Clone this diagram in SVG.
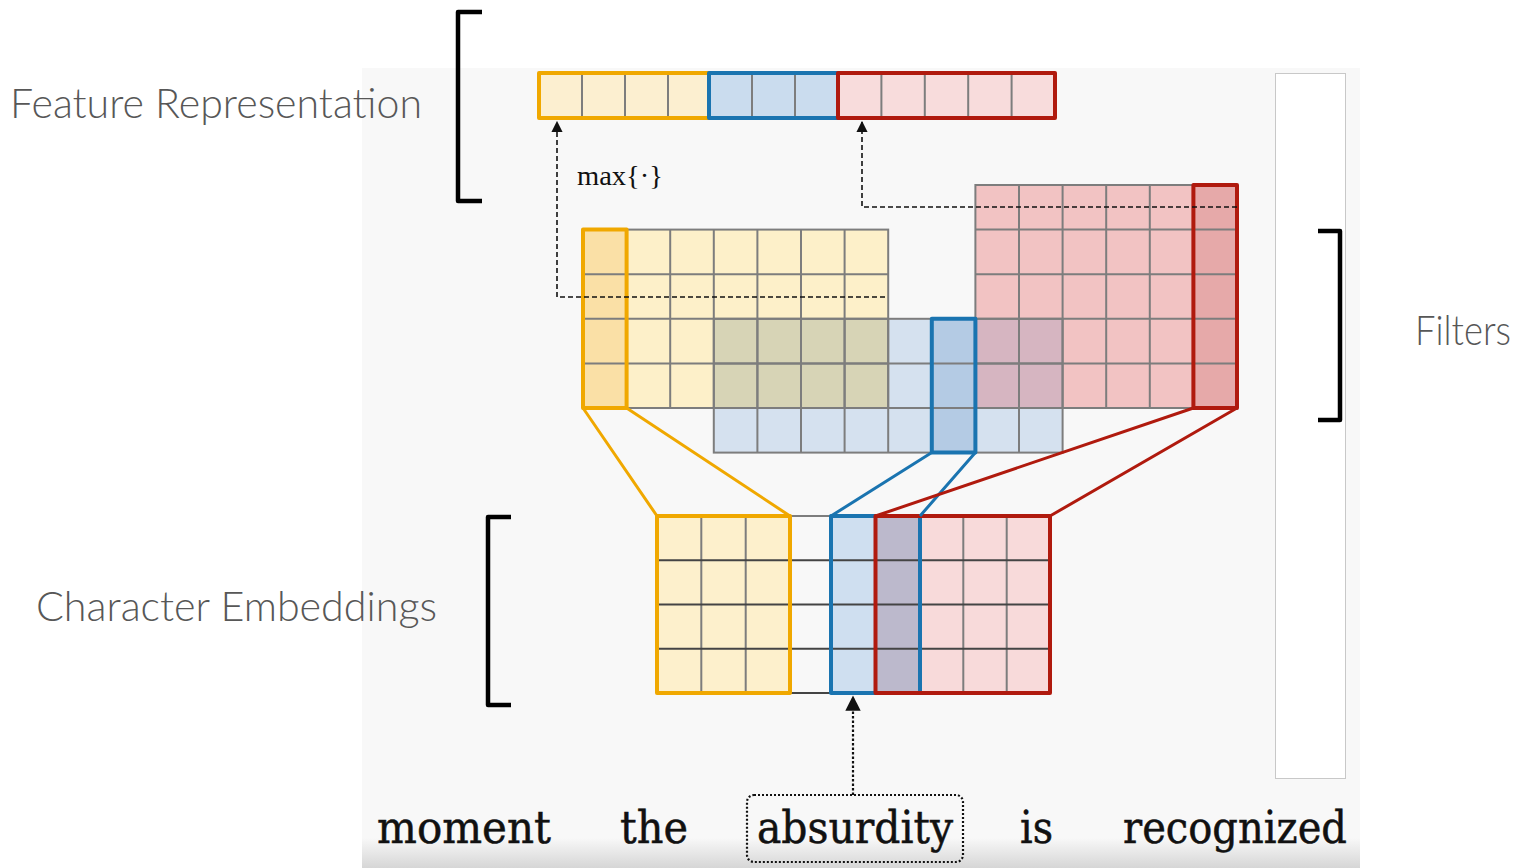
<svg xmlns="http://www.w3.org/2000/svg" width="1521" height="868" viewBox="0 0 1521 868">
<defs>
<style>
.lbl{font-family:Lato,"Open Sans","Liberation Sans",sans-serif;font-weight:300;fill:#575757;font-size:41px}
.word{font-family:"DejaVu Serif","Liberation Serif",serif;font-size:44px;fill:#111;stroke:#111;stroke-width:0.5}
.grid{fill:none;stroke:#7d7d7d;stroke-width:2}
.dark{fill:none;stroke:#444;stroke-width:2}
.brk{fill:none;stroke:#000;stroke-width:4.5;stroke-linejoin:round}
.ys{fill:none;stroke:#f0a800;stroke-width:4;stroke-linejoin:round}
.bs{fill:none;stroke:#1a74b0;stroke-width:4;stroke-linejoin:round}
.rs{fill:none;stroke:#b01a0e;stroke-width:4;stroke-linejoin:round}
.link{stroke-width:3;fill:none}
.dash{fill:none;stroke:#111;stroke-width:1.6;stroke-dasharray:5 3}
.dot{fill:none;stroke:#111;stroke-width:2.2;stroke-dasharray:2.5 2}
</style>
<marker id="ah" viewBox="0 0 10 10" refX="9" refY="5" markerWidth="7" markerHeight="7" orient="auto"><path d="M0,0 L10,5 L0,10 z" fill="#111"/></marker>
<linearGradient id="fade" x1="0" y1="0" x2="0" y2="1"><stop offset="0" stop-color="#f8f8f8"/><stop offset="1" stop-color="#d6d6d6"/></linearGradient>
</defs>

<rect x="0" y="0" width="1521" height="868" fill="#fff"/>
<g id="background">
<rect x="362" y="68" width="998" height="800" fill="#f8f8f8"/>
<rect x="362" y="838" width="998" height="30" fill="url(#fade)"/>
<rect x="1275.5" y="73.5" width="70" height="705" fill="#fff" stroke="#c8c8c8" stroke-width="1"/>
</g>

<g id="labels">
<text class="lbl" x="10" y="118" textLength="412" lengthAdjust="spacingAndGlyphs">Feature Representation</text>
<text class="lbl" x="36" y="621" textLength="401" lengthAdjust="spacingAndGlyphs">Character Embeddings</text>
<text class="lbl" x="1415" y="345" textLength="96" lengthAdjust="spacingAndGlyphs">Filters</text>
</g>

<g id="brackets">
<path class="brk" d="M482,12 H458 V201 H482"/>
<path class="brk" d="M511,517 H488 V705 H511"/>
<path class="brk" d="M1318,231 H1340 V420 H1318"/>
</g>

<g id="feature-bar">
<rect x="539" y="73" width="170" height="45" fill="#fcefd0"/>
<rect x="709" y="73" width="129" height="45" fill="#cadcee"/>
<rect x="838" y="73" width="217" height="45" fill="#f8dcdc"/>
<path class="grid" d="M582,73 V118 M625,73 V118 M668,73 V118 M752,73 V118 M795,73 V118 M881.4,73 V118 M924.8,73 V118 M968.2,73 V118 M1011.6,73 V118"/>
<rect class="ys" x="539" y="73" width="170" height="45"/>
<rect class="bs" x="709" y="73" width="129" height="45"/>
<rect class="rs" x="838" y="73" width="217" height="45"/>
</g>

<g id="max-label">
<text x="577" y="185" font-family="'Liberation Serif',serif" font-size="27" fill="#111" textLength="86" lengthAdjust="spacingAndGlyphs">max{·}</text>
</g>

<g id="filters">
<g id="filter-yellow">
<rect x="583" y="229.6" width="305.2" height="178.4" fill="#fdf0c9"/>
</g>
<g id="filter-blue">
<rect x="713.8" y="318.8" width="348.8" height="133.8" fill="#d5e1ef"/>
</g>
<g id="filter-red">
<rect x="975.4" y="185" width="261.6" height="223" fill="#f2c3c3"/>
</g>
<rect x="713.8" y="318.8" width="174.4" height="89.2" fill="#d7d4b6"/>
<rect x="975.4" y="318.8" width="87.2" height="89.2" fill="#d6b5c1"/>
<rect x="583" y="229.6" width="43.6" height="178.4" fill="#fae0a6"/>
<rect x="931.8" y="318.8" width="43.6" height="133.8" fill="#b4cbe4"/>
<rect x="1193.4" y="185" width="43.6" height="223" fill="#e6a9a9"/>
<rect class="grid" x="583" y="229.6" width="305.2" height="178.4"/>
<path class="grid" d="M626.6,229.6 V408 M670.2,229.6 V408 M713.8,229.6 V408 M757.4,229.6 V408 M801,229.6 V408 M844.6,229.6 V408 M583,274.2 H888.2 M583,318.8 H888.2 M583,363.4 H888.2"/>
<rect class="grid" x="713.8" y="318.8" width="348.8" height="133.8"/>
<path class="grid" d="M757.4,318.8 V452.6 M801,318.8 V452.6 M844.6,318.8 V452.6 M888.2,318.8 V452.6 M931.8,318.8 V452.6 M975.4,318.8 V452.6 M1019,318.8 V452.6 M713.8,363.4 H1062.6 M713.8,408 H1062.6"/>
<rect class="grid" x="975.4" y="185" width="261.6" height="223"/>
<path class="grid" d="M1019,185 V408 M1062.6,185 V408 M1106.2,185 V408 M1149.8,185 V408 M1193.4,185 V408 M975.4,229.6 H1237 M975.4,274.2 H1237 M975.4,318.8 H1237 M975.4,363.4 H1237"/>
<rect class="ys" x="583" y="229.6" width="43.6" height="178.4"/>
<rect class="bs" x="931.8" y="318.8" width="43.6" height="133.8"/>
<rect class="rs" x="1193.4" y="185" width="43.6" height="223"/>
</g>

<g id="embeddings">
<rect x="657" y="516" width="133" height="177" fill="#fdf0cc"/>
<rect x="831" y="516" width="44.5" height="177" fill="#cfdff0"/>
<rect x="875.5" y="516" width="44.5" height="177" fill="#bcb9cc"/>
<rect x="920" y="516" width="130" height="177" fill="#f8dada"/>
<path class="grid" d="M701.3,516 V693 M745.7,516 V693 M963.3,516 V693 M1006.7,516 V693 M790,516 H831"/>
<path class="dark" d="M657,560.25 H1050 M657,604.5 H1050 M657,648.75 H1050 M790,693 H831"/>
<rect class="ys" x="657" y="516" width="133" height="177"/>
<rect class="bs" x="831" y="516" width="89" height="177"/>
<rect class="rs" x="875.5" y="516" width="174.5" height="177"/>
<path class="bs" d="M920,518 V691"/>
</g>

<g id="connectors">
<path class="link" stroke="#f0a800" d="M583,408 L657,516 M626.6,408 L790,516"/>
<path class="link" stroke="#1a74b0" d="M931.8,452.6 L831,516 M975.4,452.6 L920,516"/>
<path class="link" stroke="#b01a0e" d="M1193.4,408 L875.5,516 M1237,408 L1050,516"/>
<path class="dash" d="M885,297 H557 V122" marker-end="url(#ah)"/>
<path class="dash" d="M1237,207 H862 V122" marker-end="url(#ah)"/>
<path class="dot" d="M853,795 V697" marker-end="url(#ah)"/>
</g>

<g id="words">
<text class="word" x="377" y="843" textLength="174" lengthAdjust="spacingAndGlyphs">moment</text>
<text class="word" x="620" y="843" textLength="68" lengthAdjust="spacingAndGlyphs">the</text>
<text class="word" x="757" y="843" textLength="196" lengthAdjust="spacingAndGlyphs">absurdity</text>
<text class="word" x="1020" y="843" textLength="33" lengthAdjust="spacingAndGlyphs">is</text>
<text class="word" x="1123" y="843" textLength="224" lengthAdjust="spacingAndGlyphs">recognized</text>
<rect x="747" y="795" width="216" height="67" rx="7" fill="none" stroke="#111" stroke-width="2.2" stroke-dasharray="2 2"/>
</g>
</svg>
